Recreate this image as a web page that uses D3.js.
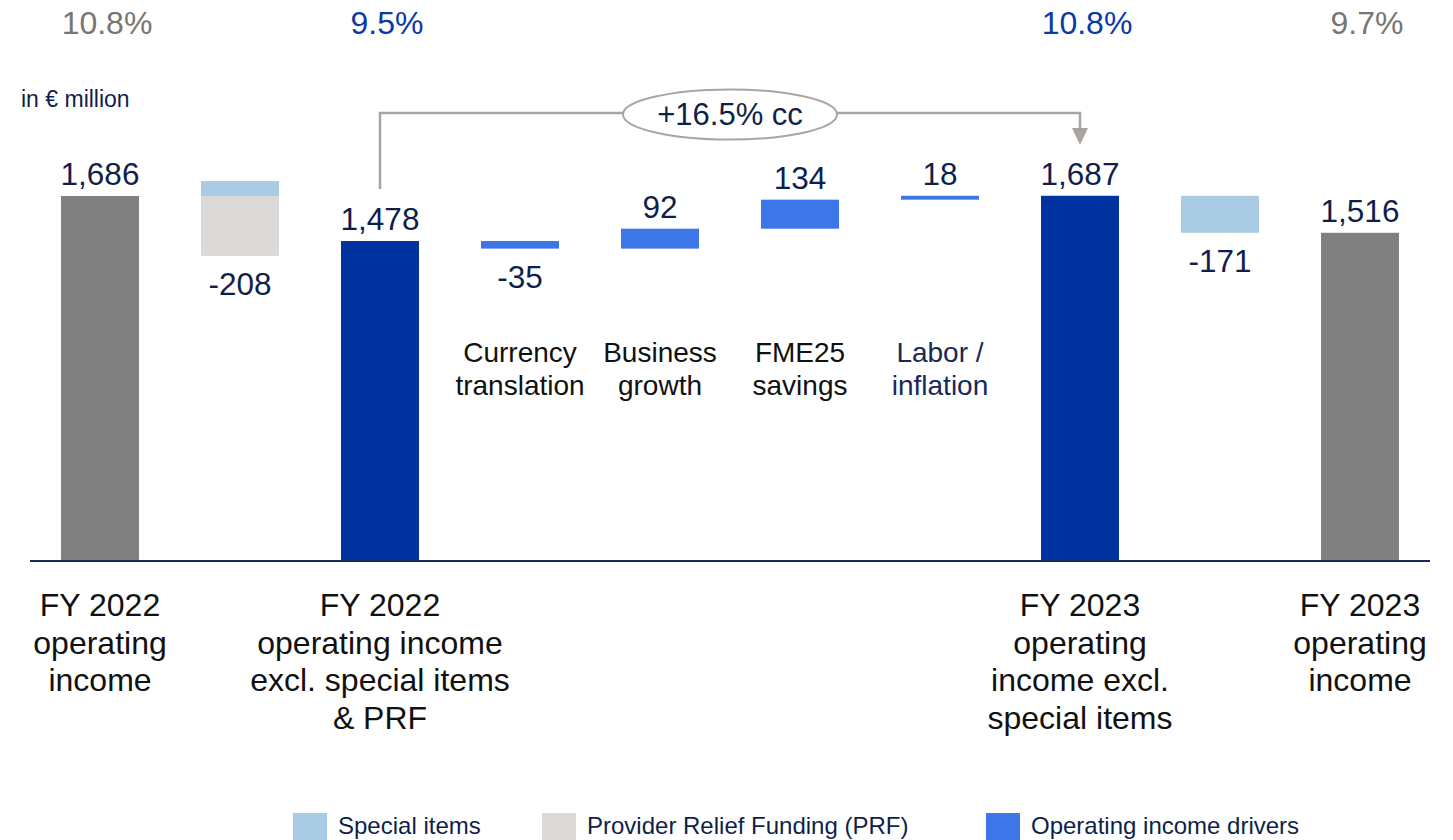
<!DOCTYPE html>
<html>
<head>
<meta charset="utf-8">
<script src="https://cdn.jsdelivr.net/npm/d3@7"></script>
<style>
  body { margin: 0; background: #fff; }
  svg { display: block; font-family: "Liberation Sans", Arial, sans-serif; }
</style>
</head>
<body>
<div id="chart"></div>
<script>
// column labels (bottom for totals, inside chart for drivers)
var columnLabels = [
    ["FY 2022", "operating", "income"],
    [],
    ["FY 2022", "operating income", "excl. special items", "& PRF"],
    ["Currency", "translation"],
    ["Business", "growth"],
    ["FME25", "savings"],
    ["Labor /", "inflation"],
    ["FY 2023", "operating", "income excl.", "special items"],
    [],
    ["FY 2023", "operating", "income"]
];
var columnKind = ["total", "bridge", "subtotal", "driver", "driver", "driver", "driver", "subtotal", "bridge", "total"];
var totalValues   = [1686, null, 1478, null, null, null, null, 1687, null, 1516];
var specialItems  = [null, 69, null, null, null, null, null, null, -171, null];
var prfValues     = [null, -277, null, null, null, null, null, null, null, null];
var driverValues  = [null, null, null, -35, 92, 134, 18, null, null, null];
var marginLabels  = ["10.8%", null, "9.5%", null, null, null, null, "10.8%", null, "9.7%"];
var growthLabel = "+16.5% cc";
var unitLabel = "in \u20ac million";
var legendItems = ["Special items", "Provider Relief Funding (PRF)", "Operating income drivers"];

var width = 1453, height = 840;
var colors = {
    total: "#808080",
    subtotal: "#0033a0",
    driver: "#3c76e9",
    special: "#aacbe4",
    prf: "#dbdad9",
    navy: "#0f1f4b",
    pctGray: "#7a7570",
    pctBlue: "#0a3aa5",
    bracket: "#aaa59f"
};
var fmt = d3.format(",");

var svg = d3.select("#chart").append("svg")
    .attr("width", width)
    .attr("height", height);

var idx = d3.range(columnKind.length);
var x = d3.scaleBand().domain(idx).range([30, 1430]).paddingInner(0.443).paddingOuter(0.2215);
var y = d3.scaleLinear().domain([0, 1686]).range([561, 196]);
var cx = function(i) { return x(i) + x.bandwidth() / 2; };

// build segments from running level
var segs = [];     // {i, y0, y1, color}
var labels = [];   // {i, text, top, bottom, neg}
var level = 0;
idx.forEach(function(i) {
    var k = columnKind[i];
    if (k === "total" || k === "subtotal") {
        level = totalValues[i];
        segs.push({i: i, y0: 0, y1: level, color: colors[k]});
        labels.push({i: i, text: fmt(level), top: level, neg: false});
    } else {
        var parts = [];
        if (specialItems[i] != null) parts.push({v: specialItems[i], color: colors.special});
        if (prfValues[i] != null) parts.push({v: prfValues[i], color: colors.prf});
        if (driverValues[i] != null) parts.push({v: driverValues[i], color: colors.driver});
        var up = level, down = level, net = 0;
        parts.forEach(function(p) {
            if (p.v >= 0) { segs.push({i: i, y0: up, y1: up + p.v, color: p.color}); up += p.v; }
            else { segs.push({i: i, y0: down + p.v, y1: down, color: p.color}); down += p.v; }
            net += p.v;
        });
        labels.push({i: i, text: net < 0 ? "-" + fmt(-net) : fmt(net), top: up, bottom: down, neg: net < 0});
        level += net;
    }
});

svg.append("g").selectAll("rect")
    .data(segs)
    .join("rect")
    .attr("x", function(d) { return x(d.i); })
    .attr("width", x.bandwidth())
    .attr("y", function(d) { return y(d.y1); })
    .attr("height", function(d) { return Math.max(y(d.y0) - y(d.y1), 3); })
    .attr("fill", function(d) { return d.color; });

// axis line
svg.append("line")
    .attr("x1", 30).attr("x2", 1430)
    .attr("y1", y(0)).attr("y2", y(0))
    .attr("stroke", "#1c2a55").attr("stroke-width", 2);

// value labels
svg.append("g").selectAll("text")
    .data(labels)
    .join("text")
    .attr("x", function(d) { return cx(d.i); })
    .attr("y", function(d) { return d.neg ? y(d.bottom) + 39 : y(d.top) - 11; })
    .attr("text-anchor", "middle")
    .attr("font-size", 31.5)
    .attr("fill", colors.navy)
    .text(function(d) { return d.text; });

// margin percentages on top
svg.append("g").selectAll("text")
    .data(idx.filter(function(i) { return marginLabels[i]; }))
    .join("text")
    .attr("x", function(i) { return cx(i) + 7; })
    .attr("y", 34)
    .attr("text-anchor", "middle")
    .attr("font-size", 32)
    .attr("fill", function(i) { return columnKind[i] === "subtotal" ? colors.pctBlue : colors.pctGray; })
    .text(function(i) { return marginLabels[i]; });

svg.append("text")
    .attr("x", 21).attr("y", 107)
    .attr("font-size", 23)
    .attr("fill", colors.navy)
    .text(unitLabel);

// column labels
idx.forEach(function(i) {
    var lines = columnLabels[i];
    if (!lines.length) return;
    var driver = columnKind[i] === "driver";
    var t = svg.append("text")
        .attr("text-anchor", "middle")
        .attr("font-size", driver ? 28 : 32)
        .attr("fill", driver ? (i === 6 ? "#16295a" : "#111") : "#111");
    lines.forEach(function(line, j) {
        t.append("tspan")
            .attr("x", cx(i))
            .attr("y", driver ? 362 + j * 33 : 616 + j * 37.7)
            .text(line);
    });
});

// growth bracket from subtotal 2022 to subtotal 2023
var from = columnKind.indexOf("subtotal"), to = columnKind.lastIndexOf("subtotal");
var bracketY = 113;
svg.append("path")
    .attr("d", "M" + cx(from) + "," + (y(totalValues[from]) - 52) +
        "V" + bracketY + "H" + cx(to) + "V" + 129)
    .attr("fill", "none")
    .attr("stroke", colors.bracket)
    .attr("stroke-width", 2.5);
svg.append("path")
    .attr("d", "M" + (cx(to) - 8) + ",128L" + (cx(to) + 8) + ",128L" + cx(to) + ",145Z")
    .attr("fill", colors.bracket);
var ex = (cx(from) + cx(to)) / 2;
svg.append("ellipse")
    .attr("cx", ex).attr("cy", 114.5)
    .attr("rx", 107).attr("ry", 25)
    .attr("fill", "#fff")
    .attr("stroke", colors.bracket)
    .attr("stroke-width", 2);
svg.append("text")
    .attr("x", ex).attr("y", 125)
    .attr("text-anchor", "middle")
    .attr("font-size", 31)
    .attr("fill", colors.navy)
    .text(growthLabel);

// legend
var legendX = [293, 542, 986];
var legendColors = [colors.special, colors.prf, colors.driver];
var lg = svg.append("g").selectAll("g")
    .data(legendItems)
    .join("g")
    .attr("transform", function(d, i) { return "translate(" + legendX[i] + ",813)"; });
lg.append("rect")
    .attr("width", 34).attr("height", 30)
    .attr("fill", function(d, i) { return legendColors[i]; });
lg.append("text")
    .attr("x", 45).attr("y", 21)
    .attr("font-size", 24)
    .attr("fill", colors.navy)
    .text(function(d) { return d; });
</script>
</body>
</html>
